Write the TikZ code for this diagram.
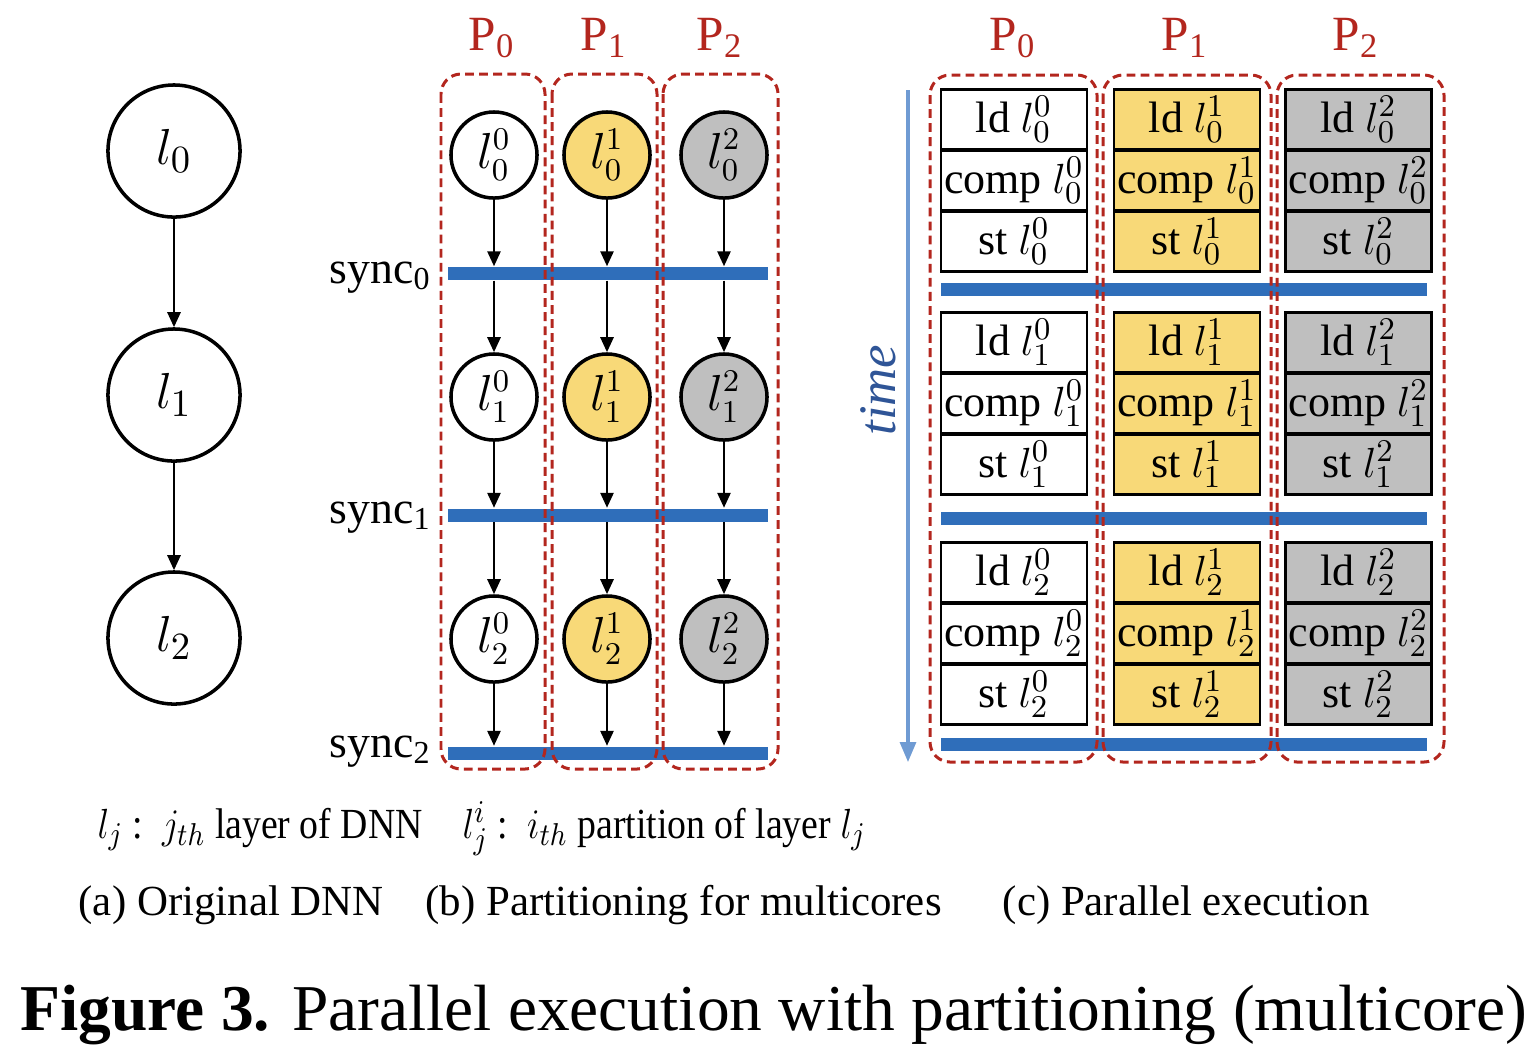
\documentclass[tikz,border=0pt]{standalone}
\usepackage{fontspec}
\setmainfont{Liberation Serif}
\usepackage{graphicx}
\usetikzlibrary{arrows.meta,positioning}
\definecolor{corered}{HTML}{B3261E}
\definecolor{syncblue}{HTML}{2F6EBA}
\definecolor{timeblue}{HTML}{6F9BD3}
\definecolor{timetext}{HTML}{2F5597}
\definecolor{partyellow}{HTML}{F8D978}
\definecolor{partgray}{HTML}{BFBFBF}
\newcommand{\fsz}[1]{\fontsize{#1}{#1}\selectfont}

\begin{document}
\begin{tikzpicture}[x=0.01cm, y=-0.01cm,
  layer/.style={circle, draw, line width=1pt, minimum size=1.32cm, inner sep=0, font=\fsz{15}},
  part/.style={circle, draw, line width=1pt, minimum size=0.86cm, inner sep=0, font=\fsz{13.5}},
  opbox/.style={draw, line width=0.8pt, minimum width=1.46cm, minimum height=0.595cm, inner sep=0, font=\fsz{12.5}},
  syncbar/.style={fill=syncblue, minimum height=0.13cm, inner sep=0},
  core/.style={draw=corered, line width=0.85pt, dash pattern=on 2.5pt off 1.5pt, rounded corners=0.2cm},
  plbl/.style={text=corered, font=\fsz{14}, anchor=base, inner sep=0},
  synclbl/.style={font=\fsz{13}, anchor=base east, inner sep=0},
  lbl/.style={font=\fsz{12.2}, anchor=base west, inner sep=0},
  flow/.style={->, line width=0.75pt},
  >={Triangle[length=1.5mm, width=1.3mm]}
]
\useasboundingbox (0,0) rectangle (1536,1062);

% (a) original DNN
\foreach \j/\y in {0/151, 1/395, 2/638}{
  \node[layer] (l\j) at (174,\y) {$l_{\j}$};
}
\draw[flow] (l0) -- (l1);
\draw[flow] (l1) -- (l2);

% (b) partitions and sync bars
\foreach \j/\y in {0/155, 1/397, 2/639}{
  \node[part] (p\j0) at (494,\y) {$l^{0}_{\j}$};
  \node[part, fill=partyellow] (p\j1) at (607,\y) {$l^{1}_{\j}$};
  \node[part, fill=partgray] (p\j2) at (724,\y) {$l^{2}_{\j}$};
}
\foreach \s/\y/\b in {0/273.5/283, 1/515/523, 2/753/757}{
  \node[syncbar, minimum width=3.2cm] (sb\s) at (608,\y) {};
  \node[synclbl] (sl\s) at (432,\b) {sync\textsubscript{\s}};
}
\foreach \i in {0,1,2}{
  \draw[flow] (p0\i) -- (p0\i |- sb0.north);
  \draw[flow] (p0\i |- sb0.south) -- (p1\i);
  \draw[flow] (p1\i) -- (p1\i |- sb1.north);
  \draw[flow] (p1\i |- sb1.south) -- (p2\i);
  \draw[flow] (p2\i) -- (p2\i |- sb2.north);
}
\draw[core] (441,74) rectangle (545,769);
\draw[core] (552,74) rectangle (657,769);
\draw[core] (663,74) rectangle (778,769);
\node[plbl] (pb0) at (492,50) {P\textsubscript{0}};
\node[plbl] (pb1) at (604,50) {P\textsubscript{1}};
\node[plbl] (pb2) at (720,50) {P\textsubscript{2}};

% (c) parallel execution
\foreach \i/\x/\col in {0/1014/white, 1/1187/partyellow, 2/1358.5/partgray}{
  \foreach \g/\ty in {0/89, 1/312, 2/542}{
    \foreach \r/\op in {0/ld, 1/comp, 2/st}{
      \node[opbox, fill=\col] (op\i\g\r) at (\x,\ty+30.5+61*\r) {\op{} $l^{\i}_{\g}$};
    }
  }
}
\foreach \s/\y in {0/289.5, 1/518, 2/744.5}{
  \node[syncbar, minimum width=4.86cm] (sc\s) at (1184,\y) {};
}
\draw[core] (930,75) rectangle (1097,762);
\draw[core] (1103,75) rectangle (1271,762);
\draw[core] (1277,75) rectangle (1444,762);
\node[plbl] (pc0) at (1013,50) {P\textsubscript{0}};
\node[plbl] (pc1) at (1185,50) {P\textsubscript{1}};
\node[plbl] (pc2) at (1356,50) {P\textsubscript{2}};

% time axis
\coordinate (t0) at (908,90);
\coordinate (t1) at (908,762);
\draw[timeblue, line width=0.9pt, -{Triangle[length=2mm, width=1.6mm]}] (t0) -- (t1);
\node[rotate=90, text=timetext, font=\fsz{15}\itshape] (tlbl) at (878,390) {time};

% legend and captions
\node[lbl] (leg0) at (97,838) {\scalebox{0.88}[1]{$l_j$ :\, $j_{th}$ layer of DNN}};
\node[lbl] (leg1) at (462,838) {\scalebox{0.88}[1]{$l^i_j$ :\, $i_{th}$ partition of layer $l_j$}};
\node[lbl] (capa) at (78,915) {(a) Original DNN};
\node[lbl] (capb) at (425,915) {(b) Partitioning for multicores};
\node[lbl] (capc) at (1002,915) {(c) Parallel execution};
\node[font=\fsz{18.6}, anchor=base west, inner sep=0] (cap) at (20,1030) {\textbf{Figure 3.} Parallel execution with partitioning (multicore)};
\end{tikzpicture}
\end{document}
